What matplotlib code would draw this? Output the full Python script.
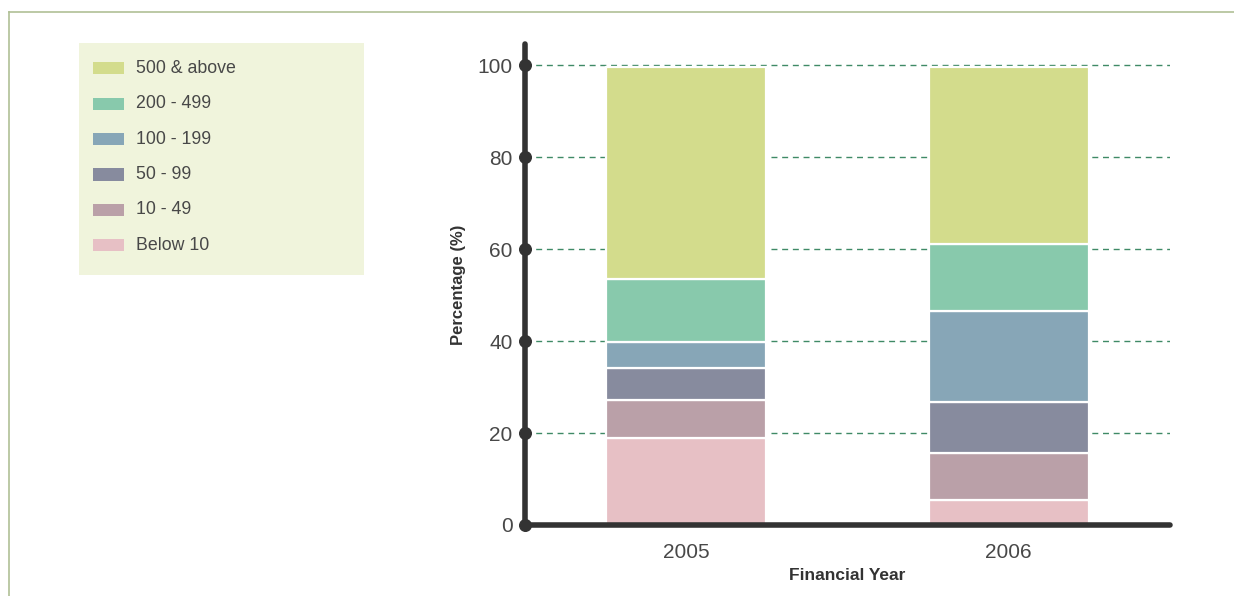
import matplotlib
matplotlib.use("Agg")
import matplotlib.pyplot as plt
from matplotlib.patches import Rectangle
from matplotlib.lines import Line2D
import numpy as np

years = ["2005", "2006"]
categories = ["Below 10", "10 - 49", "50 - 99", "100 - 199", "200 - 499", "500 & above"]
values_2005 = [18.85, 8.35, 7.0, 5.5, 13.7, 46.2]
values_2006 = [5.4, 10.25, 11.05, 19.9, 14.6, 38.4]
colors = ["#e7c0c5", "#baa0a8", "#878b9e", "#87a6b7", "#88c9ac", "#d3dc8c"]
yticks = [0, 20, 40, 60, 80, 100]

plt.rcParams['lines.scale_dashes'] = False
FONT = ["Liberation Sans", "DejaVu Sans"]
plt.rcParams['font.family'] = FONT
TXT = "#484848"

fig = plt.figure(figsize=(12.34, 5.96), dpi=100)
W, H = 1234, 596

def fx(px):
    return px / W

def fy(py):
    return 1 - py / H

# outer frame lines (top and left)
fig.add_artist(Line2D([fx(9), 1.0], [fy(12), fy(12)], color="#b0c096", lw=1.2))
fig.add_artist(Line2D([fx(9), fx(9)], [fy(12), 0.0], color="#b0c096", lw=1.2))

# legend box
fig.add_artist(Rectangle((fx(79), fy(275)), fx(364) - fx(79), fy(43) - fy(275),
                         transform=fig.transFigure, facecolor="#f0f4dc", edgecolor="none"))
legend_order = list(range(len(categories)))[::-1]
for i, ci in enumerate(legend_order):
    yc = 68.3 + i * 35.4
    fig.add_artist(Rectangle((fx(93), fy(yc + 6)), fx(124) - fx(93), fy(yc - 6) - fy(yc + 6),
                             transform=fig.transFigure, facecolor=colors[ci], edgecolor="none"))
    fig.text(fx(136), fy(yc), categories[ci], fontsize=12.8, color=TXT,
             va="center", ha="left")

ax = fig.add_axes([fx(525), fy(525), fx(1170) - fx(525), fy(44) - fy(525)])
x = np.arange(len(years))
data = np.array([values_2005, values_2006])  # shape years x categories
bottom = np.zeros(len(years))
for ci, cat in enumerate(categories):
    ax.bar(x, data[:, ci], bottom=bottom, width=0.495, color=colors[ci],
           edgecolor="white", linewidth=1.6, zorder=3)
    bottom += data[:, ci]

ax.set_xlim(-0.5, 1.5)
ax.set_ylim(0, 104.6)
ax.set_yticks(yticks)
ax.set_yticklabels([str(t) for t in yticks], fontsize=15, color=TXT)
ax.set_xticks(x)
ax.set_xticklabels(years, fontsize=15, color=TXT)
ax.tick_params(axis="both", length=0)
ax.tick_params(axis="y", pad=9)
ax.tick_params(axis="x", pad=13)

for t in yticks[1:]:
    ax.axhline(t, color="#3f8a66", lw=1.0, linestyle=(0, (4.3, 3.4)), zorder=1)

for s in ["top", "right"]:
    ax.spines[s].set_visible(False)
for s in ["left", "bottom"]:
    ax.spines[s].set_linewidth(4)
    ax.spines[s].set_color("#333333")
    ax.spines[s].set_capstyle("round")
    ax.spines[s].set_zorder(5)

ax.scatter(np.full(len(yticks), -0.5), yticks, s=70, color="#333333", zorder=6, clip_on=False)

ax.set_xlabel("Financial Year", fontsize=12.5, fontweight="bold", color="#333333", labelpad=4)
ax.set_ylabel("Percentage (%)", fontsize=12, fontweight="bold", color="#333333", labelpad=8)

fig.savefig("out.png", dpi=100)
